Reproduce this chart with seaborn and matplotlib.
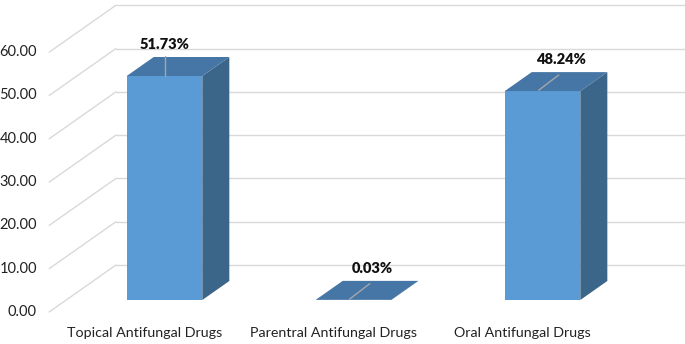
import numpy as np
import seaborn as sns
import matplotlib.pyplot as plt
from matplotlib.patches import Polygon

# data
categories = ['Topical Antifungal Drugs', 'Parentral Antifungal Drugs', 'Oral Antifungal Drugs']
values = [51.73, 0.03, 48.24]
labels = ['51.73%', '0.03%', '48.24%']
y_ticks = [0, 10, 20, 30, 40, 50, 60]

# colours
front_c = '#5B9BD5'
top_c = '#4676A6'
side_c = '#3B6689'
grid_c = '#D9D9D9'

# pseudo 3d depth (in data units)
ddx, ddy = 0.143, 4.39
t_front, t_back = -0.63, 1.84
left_edge, right_edge = -0.52, 2.5

sns.set_style('white')
plt.rcParams['font.family'] = ['Lato', 'DejaVu Sans']

fig = plt.figure(figsize=(6.85, 3.44), dpi=100)
ax = fig.add_axes([0, 0, 1, 1])

# bar fronts through seaborn
sns.barplot(x=categories, y=values, width=0.4, color=front_c, saturation=1,
            edgecolor='none', ax=ax, zorder=3)

# walls: left side diagonals + back wall lines
for v in y_ticks:
    x1, y1 = left_edge + t_front * ddx, v + t_front * ddy
    x2, y2 = left_edge + t_back * ddx, v + t_back * ddy
    ax.plot([x1, x2], [y1, y2], color=grid_c, lw=1, zorder=1)
    ax.plot([x2, right_edge + t_back * ddx], [y2, y2], color=grid_c, lw=1, zorder=1)
    ax.text(x1 - 0.065, y1, f'{v:.2f}', ha='right', va='center', fontsize=10.5, color='#222222')

# top and side faces
for i, p in enumerate(ax.patches[:len(values)]):
    x0, w, h = p.get_x(), p.get_width(), p.get_height()
    top = [(x0, h), (x0 + w, h), (x0 + w + ddx, h + ddy), (x0 + ddx, h + ddy)]
    side = [(x0 + w, 0), (x0 + w, h), (x0 + w + ddx, h + ddy), (x0 + w + ddx, ddy)]
    ax.add_patch(Polygon(side, closed=True, facecolor=side_c, edgecolor='none', zorder=3))
    ax.add_patch(Polygon(top, closed=True, facecolor=top_c, edgecolor='none', zorder=3))
    cx = x0 + w / 2
    if i == 0:
        lx = cx
        ax.plot([cx, cx], [h, h + ddy + 0.3], color='#A6A6A6', lw=1, zorder=4)
    else:
        lx = cx + 0.7 * ddx
        ax.plot([cx - 0.02, cx + 0.6 * ddx], [h + 0.2, h + 0.85 * ddy], color='#A6A6A6', lw=1, zorder=4)
    ax.text(lx, h + ddy + 2.8, labels[i], ha='center', va='center', fontsize=10.5,
            fontweight='heavy', color='#111111', zorder=5)

# category labels sit at the front edge of the floor
for i, c in enumerate(categories):
    ax.text(i - 0.105, -7.6, c, ha='center', va='center', fontsize=10.3, color='#222222')

ax.set_xlim(-164.5 / 189, (685 - 164.5) / 189)
ax.set_ylim((300 - 344) / 4.33, 300 / 4.33)
ax.set_axis_off()

plt.savefig('out.png', dpi=100)
